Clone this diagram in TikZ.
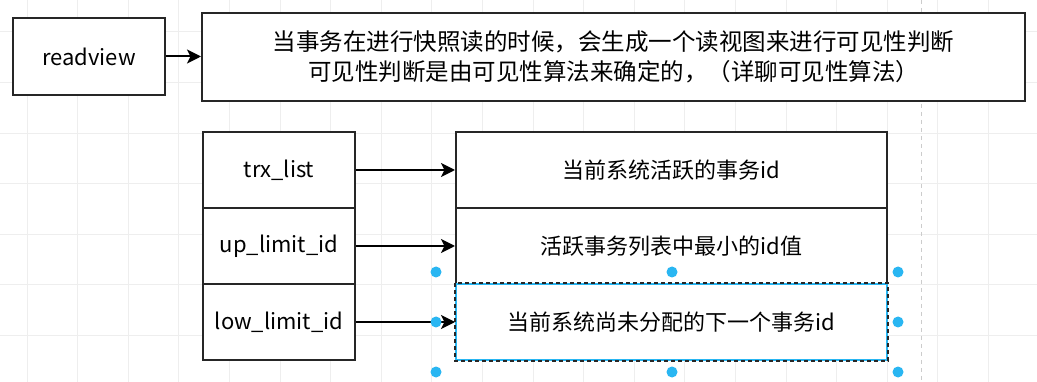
\documentclass[tikz,border=0pt]{standalone}
\usepackage{fontspec}
\setmainfont{Noto Sans CJK SC}
\usetikzlibrary{arrows.meta}

\definecolor{selblue}{RGB}{41,182,242}
\definecolor{gridgray}{RGB}{238,238,238}

\begin{document}
\begin{tikzpicture}[x=1pt,y=-1pt,>={Stealth[length=14pt,width=14pt,inset=3.5pt]},line join=miter,
  box/.style={draw=black!85,line width=2pt,fill=white,inner sep=0pt,font=\fontsize{22}{30}\selectfont,align=center},
  arr/.style={->,draw=black,line width=2pt},
  gridline/.style={draw=gridgray,line width=0.8pt},
  handle/.style={fill=selblue}]
\useasboundingbox[fill=white] (0,0) rectangle (1037,382);
% background grid and page break
\foreach \gx in {0,...,20} \draw[gridline] ({27+50.6*\gx},0) -- ({27+50.6*\gx},382);
\foreach \gy in {0,...,7} \draw[gridline] (0,{31.8+50.6*\gy}) -- (1037,{31.8+50.6*\gy});
\draw[gray!40,line width=0.8pt,dash pattern=on 4pt off 4pt] (921.5,0) -- (921.5,382);
% top row
\node[box,minimum width=152pt,minimum height=77pt] (rv) at (89,56.5) {readview};
\node[box,minimum width=823pt,minimum height=88pt,font=\fontsize{23.5}{30}\selectfont] (desc) at (613.5,57) {当事务在进行快照读的时候，会生成一个读视图来进行可见性判断\\可见性判断是由可见性算法来确定的，（详聊可见性算法）};
\draw[arr] (rv.east) -- (rv.east -| desc.west);
% fields
\node[box,minimum width=152pt,minimum height=76pt] (trx) at (279,170) {trx\_list};
\node[box,minimum width=152pt,minimum height=76pt] (up) at (279,246) {up\_limit\_id};
\node[box,minimum width=152pt,minimum height=76pt] (low) at (279,322) {low\_limit\_id};
\node[box,minimum width=431pt,minimum height=76pt] (trxval) at (671.5,170) {当前系统活跃的事务id};
\node[box,minimum width=431pt,minimum height=76pt] (upval) at (671.5,246) {活跃事务列表中最小的id值};
\node[box,draw=selblue,minimum width=431pt,minimum height=76pt] (lowval) at (671.5,322) {当前系统尚未分配的下一个事务id};
\draw[black!85,line width=1.5pt,dash pattern=on 4pt off 3pt] (lowval.north west) rectangle (lowval.south east);
\draw[arr] (trx) -- (trxval);
\draw[arr] (up) -- (upval);
\draw[arr] (low) -- (lowval);
% selection handles
\foreach \hx/\hy in {436/272,672/272,898/272,436/322,898/322,436/372,672/372,898/372}
  \fill[handle] (\hx,\hy) circle (5.5pt);
\end{tikzpicture}
\end{document}
